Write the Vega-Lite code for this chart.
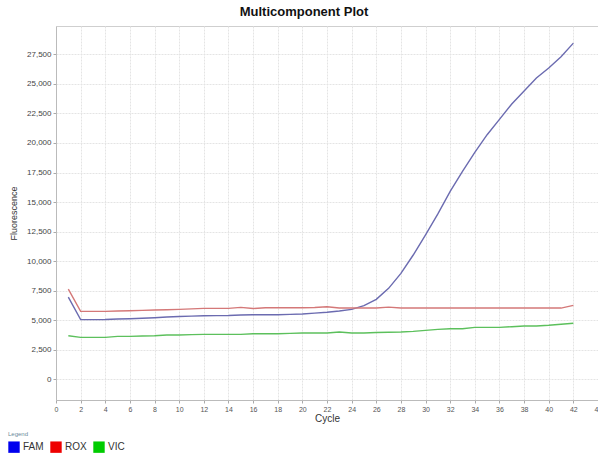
{
  "$schema": "https://vega.github.io/schema/vega-lite/v6.json",
  "autosize": {"type": "none"},
  "width": 542,
  "height": 374,
  "padding": {"left": 56, "top": 26, "right": 0, "bottom": 74},
  "background": "white",
  "config": {
    "font": "Liberation Sans",
    "view": {"stroke": "#cfcfcf", "strokeWidth": 1}
  },
  "title": {
    "text": "Multicomponent Plot",
    "fontSize": 13,
    "fontWeight": "bold",
    "font": "Liberation Sans",
    "color": "#111111",
    "anchor": "middle",
    "dx": -23,
    "offset": 7
  },
  "data": {
    "values": [
      {"cycle": 1, "dye": "FAM", "value": 6950},
      {"cycle": 2, "dye": "FAM", "value": 5050},
      {"cycle": 3, "dye": "FAM", "value": 5050},
      {"cycle": 4, "dye": "FAM", "value": 5060},
      {"cycle": 5, "dye": "FAM", "value": 5100},
      {"cycle": 6, "dye": "FAM", "value": 5130},
      {"cycle": 7, "dye": "FAM", "value": 5170},
      {"cycle": 8, "dye": "FAM", "value": 5210},
      {"cycle": 9, "dye": "FAM", "value": 5270},
      {"cycle": 10, "dye": "FAM", "value": 5320},
      {"cycle": 11, "dye": "FAM", "value": 5350},
      {"cycle": 12, "dye": "FAM", "value": 5380},
      {"cycle": 13, "dye": "FAM", "value": 5390},
      {"cycle": 14, "dye": "FAM", "value": 5400},
      {"cycle": 15, "dye": "FAM", "value": 5440},
      {"cycle": 16, "dye": "FAM", "value": 5460},
      {"cycle": 17, "dye": "FAM", "value": 5460},
      {"cycle": 18, "dye": "FAM", "value": 5470},
      {"cycle": 19, "dye": "FAM", "value": 5500},
      {"cycle": 20, "dye": "FAM", "value": 5530},
      {"cycle": 21, "dye": "FAM", "value": 5600},
      {"cycle": 22, "dye": "FAM", "value": 5670},
      {"cycle": 23, "dye": "FAM", "value": 5780},
      {"cycle": 24, "dye": "FAM", "value": 5920},
      {"cycle": 25, "dye": "FAM", "value": 6230},
      {"cycle": 26, "dye": "FAM", "value": 6770},
      {"cycle": 27, "dye": "FAM", "value": 7700},
      {"cycle": 28, "dye": "FAM", "value": 8970},
      {"cycle": 29, "dye": "FAM", "value": 10520},
      {"cycle": 30, "dye": "FAM", "value": 12220},
      {"cycle": 31, "dye": "FAM", "value": 14000},
      {"cycle": 32, "dye": "FAM", "value": 15900},
      {"cycle": 33, "dye": "FAM", "value": 17600},
      {"cycle": 34, "dye": "FAM", "value": 19200},
      {"cycle": 35, "dye": "FAM", "value": 20700},
      {"cycle": 36, "dye": "FAM", "value": 22000},
      {"cycle": 37, "dye": "FAM", "value": 23300},
      {"cycle": 38, "dye": "FAM", "value": 24400},
      {"cycle": 39, "dye": "FAM", "value": 25500},
      {"cycle": 40, "dye": "FAM", "value": 26350},
      {"cycle": 41, "dye": "FAM", "value": 27300},
      {"cycle": 42, "dye": "FAM", "value": 28450},
      {"cycle": 1, "dye": "ROX", "value": 7640},
      {"cycle": 2, "dye": "ROX", "value": 5750},
      {"cycle": 3, "dye": "ROX", "value": 5750},
      {"cycle": 4, "dye": "ROX", "value": 5750},
      {"cycle": 5, "dye": "ROX", "value": 5780},
      {"cycle": 6, "dye": "ROX", "value": 5805},
      {"cycle": 7, "dye": "ROX", "value": 5835},
      {"cycle": 8, "dye": "ROX", "value": 5863},
      {"cycle": 9, "dye": "ROX", "value": 5890},
      {"cycle": 10, "dye": "ROX", "value": 5920},
      {"cycle": 11, "dye": "ROX", "value": 5960},
      {"cycle": 12, "dye": "ROX", "value": 6005},
      {"cycle": 13, "dye": "ROX", "value": 6005},
      {"cycle": 14, "dye": "ROX", "value": 6005},
      {"cycle": 15, "dye": "ROX", "value": 6090},
      {"cycle": 16, "dye": "ROX", "value": 5990},
      {"cycle": 17, "dye": "ROX", "value": 6060},
      {"cycle": 18, "dye": "ROX", "value": 6060},
      {"cycle": 19, "dye": "ROX", "value": 6060},
      {"cycle": 20, "dye": "ROX", "value": 6060},
      {"cycle": 21, "dye": "ROX", "value": 6080},
      {"cycle": 22, "dye": "ROX", "value": 6140},
      {"cycle": 23, "dye": "ROX", "value": 6040},
      {"cycle": 24, "dye": "ROX", "value": 6030},
      {"cycle": 25, "dye": "ROX", "value": 6030},
      {"cycle": 26, "dye": "ROX", "value": 6030},
      {"cycle": 27, "dye": "ROX", "value": 6110},
      {"cycle": 28, "dye": "ROX", "value": 6030},
      {"cycle": 29, "dye": "ROX", "value": 6030},
      {"cycle": 30, "dye": "ROX", "value": 6030},
      {"cycle": 31, "dye": "ROX", "value": 6030},
      {"cycle": 32, "dye": "ROX", "value": 6030},
      {"cycle": 33, "dye": "ROX", "value": 6030},
      {"cycle": 34, "dye": "ROX", "value": 6030},
      {"cycle": 35, "dye": "ROX", "value": 6030},
      {"cycle": 36, "dye": "ROX", "value": 6030},
      {"cycle": 37, "dye": "ROX", "value": 6030},
      {"cycle": 38, "dye": "ROX", "value": 6030},
      {"cycle": 39, "dye": "ROX", "value": 6030},
      {"cycle": 40, "dye": "ROX", "value": 6030},
      {"cycle": 41, "dye": "ROX", "value": 6030},
      {"cycle": 42, "dye": "ROX", "value": 6260},
      {"cycle": 1, "dye": "VIC", "value": 3690},
      {"cycle": 2, "dye": "VIC", "value": 3550},
      {"cycle": 3, "dye": "VIC", "value": 3550},
      {"cycle": 4, "dye": "VIC", "value": 3550},
      {"cycle": 5, "dye": "VIC", "value": 3635},
      {"cycle": 6, "dye": "VIC", "value": 3635},
      {"cycle": 7, "dye": "VIC", "value": 3660},
      {"cycle": 8, "dye": "VIC", "value": 3690},
      {"cycle": 9, "dye": "VIC", "value": 3750},
      {"cycle": 10, "dye": "VIC", "value": 3750},
      {"cycle": 11, "dye": "VIC", "value": 3780},
      {"cycle": 12, "dye": "VIC", "value": 3805},
      {"cycle": 13, "dye": "VIC", "value": 3805},
      {"cycle": 14, "dye": "VIC", "value": 3805},
      {"cycle": 15, "dye": "VIC", "value": 3805},
      {"cycle": 16, "dye": "VIC", "value": 3860},
      {"cycle": 17, "dye": "VIC", "value": 3860},
      {"cycle": 18, "dye": "VIC", "value": 3860},
      {"cycle": 19, "dye": "VIC", "value": 3890},
      {"cycle": 20, "dye": "VIC", "value": 3915},
      {"cycle": 21, "dye": "VIC", "value": 3915},
      {"cycle": 22, "dye": "VIC", "value": 3915},
      {"cycle": 23, "dye": "VIC", "value": 4000},
      {"cycle": 24, "dye": "VIC", "value": 3915},
      {"cycle": 25, "dye": "VIC", "value": 3915},
      {"cycle": 26, "dye": "VIC", "value": 3960},
      {"cycle": 27, "dye": "VIC", "value": 3980},
      {"cycle": 28, "dye": "VIC", "value": 4000},
      {"cycle": 29, "dye": "VIC", "value": 4060},
      {"cycle": 30, "dye": "VIC", "value": 4145},
      {"cycle": 31, "dye": "VIC", "value": 4230},
      {"cycle": 32, "dye": "VIC", "value": 4285},
      {"cycle": 33, "dye": "VIC", "value": 4285},
      {"cycle": 34, "dye": "VIC", "value": 4400},
      {"cycle": 35, "dye": "VIC", "value": 4400},
      {"cycle": 36, "dye": "VIC", "value": 4400},
      {"cycle": 37, "dye": "VIC", "value": 4455},
      {"cycle": 38, "dye": "VIC", "value": 4510},
      {"cycle": 39, "dye": "VIC", "value": 4510},
      {"cycle": 40, "dye": "VIC", "value": 4570},
      {"cycle": 41, "dye": "VIC", "value": 4655},
      {"cycle": 42, "dye": "VIC", "value": 4740}
    ]
  },
  "mark": {"type": "line", "strokeWidth": 1.4, "clip": true},
  "encoding": {
    "x": {
      "field": "cycle",
      "type": "quantitative",
      "scale": {"domain": [0, 44], "nice": false, "zero": false},
      "axis": {
        "title": "Cycle",
        "titleFontSize": 10,
        "titleFontWeight": "normal",
        "titleColor": "#333333",
        "titlePadding": 1,
        "values": [0, 2, 4, 6, 8, 10, 12, 14, 16, 18, 20, 22, 24, 26, 28, 30, 32, 34, 36, 38, 40, 42, 44],
        "labelFontSize": 7,
        "labelColor": "#555555",
        "labelFlush": false,
        "tickColor": "#aaaaaa",
        "tickSize": 3,
        "domainColor": "#bbbbbb",
        "gridColor": "#e4e4e4",
        "gridDash": [2, 1],
        "grid": true
      }
    },
    "y": {
      "field": "value",
      "type": "quantitative",
      "scale": {"domain": [-1750, 29900], "nice": false, "zero": false},
      "axis": {
        "title": "Fluorescence",
        "titleFontSize": 9,
        "titleFontWeight": "normal",
        "titleColor": "#333333",
        "titleX": -38,
        "values": [0, 2500, 5000, 7500, 10000, 12500, 15000, 17500, 20000, 22500, 25000, 27500],
        "format": ",d",
        "labelFontSize": 8,
        "labelColor": "#444444",
        "tickColor": "#aaaaaa",
        "tickSize": 3,
        "labelPadding": 2,
        "domainColor": "#bbbbbb",
        "gridColor": "#e4e4e4",
        "gridDash": [2, 1],
        "grid": true
      }
    },
    "color": {
      "field": "dye",
      "type": "nominal",
      "scale": {"domain": ["FAM", "ROX", "VIC"], "range": ["#6b6bb0", "#d47878", "#5cc05c"]},
      "legend": {
        "title": "Legend",
        "titleFontSize": 6,
        "titleFontWeight": "normal",
        "titleColor": "#6a8a9a",
        "orient": "none",
        "legendX": -48,
        "legendY": 405,
        "direction": "horizontal",
        "symbolType": "square",
        "symbolSize": 130,
        "symbolStrokeWidth": 0,
        "labelFontSize": 10,
        "labelColor": "#333333",
        "labelOffset": 3,
        "columnPadding": 6,
        "titlePadding": 4,
        "encode": {
          "symbols": {
            "update": {
              "fill": {"signal": "datum.value === 'FAM' ? '#0000ee' : datum.value === 'ROX' ? '#ee0000' : '#00cc00'"},
              "fillOpacity": {"value": 1}
            }
          }
        }
      }
    }
  }
}
